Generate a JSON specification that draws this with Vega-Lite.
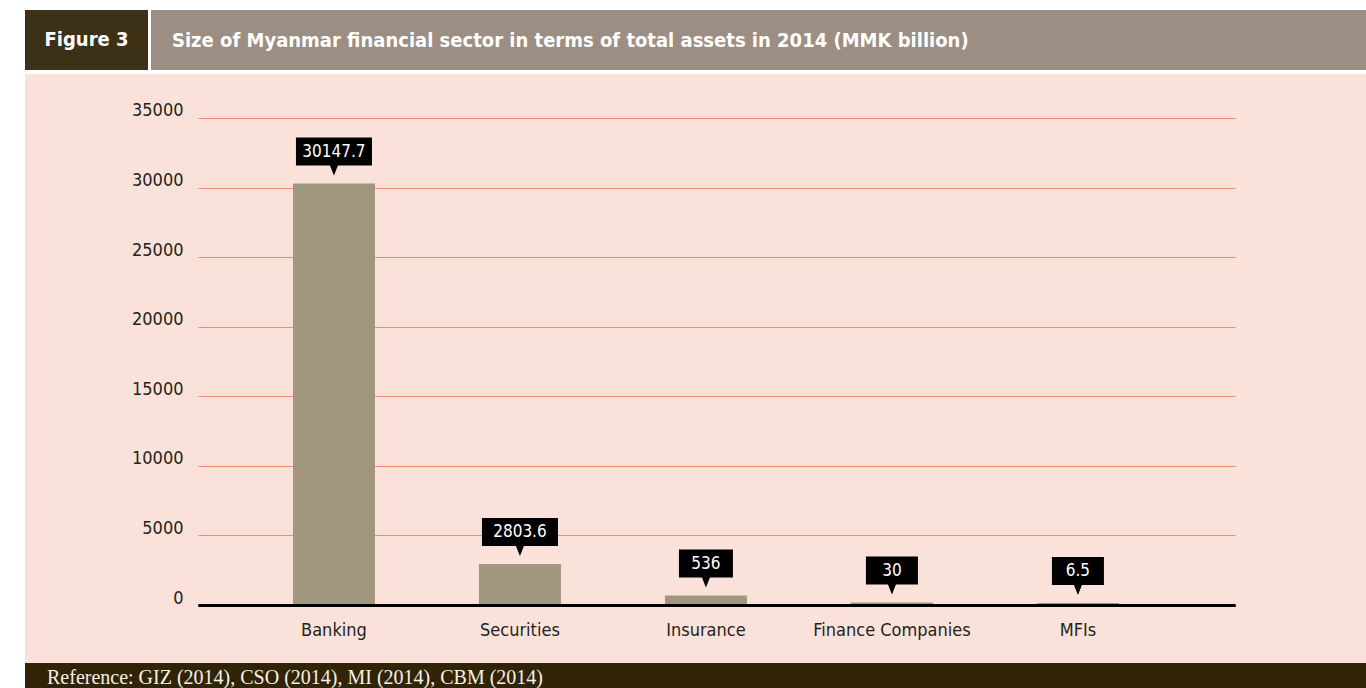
{
  "$schema": "https://vega.github.io/schema/vega-lite/v6.json",
  "background": "#ffffff",
  "padding": {"left": 25, "top": 10, "right": 0, "bottom": 0},
  "spacing": 0,
  "config": {
    "view": {"stroke": null},
    "font": "DejaVu Sans Condensed, Liberation Sans Narrow, Roboto, sans-serif"
  },
  "vconcat": [
    {
      "spacing": 3,
      "hconcat": [
        {
          "width": 123,
          "height": 60,
          "view": {"fill": "#3c3117", "stroke": null},
          "data": {"values": [{"label": "Figure 3"}]},
          "mark": {"type": "text", "color": "#ffffff", "fontSize": 20, "fontWeight": "bold", "baseline": "middle", "align": "center"},
          "encoding": {"text": {"field": "label"}}
        },
        {
          "width": 1215,
          "height": 60,
          "view": {"fill": "#9c8e82", "stroke": null},
          "data": {"values": [{"label": "Size of Myanmar financial sector in terms of total assets in 2014 (MMK billion)"}]},
          "mark": {"type": "text", "color": "#ffffff", "fontSize": 20, "fontWeight": "bold", "baseline": "middle", "align": "left", "x": 21, "y": 31},
          "encoding": {"text": {"field": "label"}}
        }
      ]
    },
    {
      "width": 1341,
      "height": 4,
      "data": {"values": []},
      "mark": {"type": "text", "text": ""},
      "encoding": {}
    },
    {
      "width": 1341,
      "height": 589,
      "view": {"fill": "#fae2db", "stroke": null},
      "data": {
        "values": [
          {"sector": "Banking", "assets": 30147.7, "label": "30147.7"},
          {"sector": "Securities", "assets": 2803.6, "label": "2803.6"},
          {"sector": "Insurance", "assets": 536, "label": "536"},
          {"sector": "Finance Companies", "assets": 30, "label": "30"},
          {"sector": "MFIs", "assets": 6.5, "label": "6.5"}
        ]
      },
      "encoding": {
        "x": {
          "field": "sector",
          "type": "nominal",
          "sort": null,
          "scale": {"rangeMin": 173, "rangeMax": 1210, "paddingInner": 0.56, "paddingOuter": 0.5677, "align": 0.45},
          "axis": {
            "title": null,
            "offset": -58,
            "domain": true,
            "domainColor": "#000000",
            "domainWidth": 3,
            "ticks": false,
            "labelPadding": 16,
            "labelAngle": 0,
            "labelBaseline": "top",
            "labelFontSize": 18,
            "labelColor": "#231f20",
            "zindex": 1
          }
        },
        "y": {
          "field": "assets",
          "type": "quantitative",
          "scale": {"domain": [-4168, 38162], "nice": false, "zero": false},
          "axis": {
            "title": null,
            "values": [0, 5000, 10000, 15000, 20000, 25000, 30000, 35000],
            "format": "d",
            "offset": -173,
            "domain": false,
            "grid": false,
            "ticks": true,
            "tickSize": -1037,
            "tickColor": {"condition": {"test": "datum.value === 0", "value": "#000000"}, "value": "#f08b6f"},
            "tickWidth": {"condition": {"test": "datum.value === 0", "value": 3}, "value": 1},
            "labelPadding": 1052,
            "labelOffset": -2,
            "labelAlign": "right",
            "labelBaseline": "alphabetic",
            "labelFontSize": 18,
            "labelColor": "#231f20",
            "zindex": 0
          }
        }
      },
      "layer": [
        {
          "mark": {"type": "bar", "color": "#a1967e", "stroke": "#a1967e", "strokeWidth": 4, "width": {"band": 0.953}},
          "encoding": {"y2": {"datum": 0}}
        },
        {
          "mark": {"type": "point", "filled": true, "size": 4, "color": "#000000", "opacity": 1, "strokeWidth": 0},
          "encoding": {
            "shape": {
              "field": "sector",
              "type": "nominal",
              "legend": null,
              "scale": {
                "domain": ["Banking", "Securities", "Insurance", "Finance Companies", "MFIs"],
                "range": [
                  "M-38,-48H38V-20H4L0,-10L-4,-20H-38Z",
                  "M-38,-48H38V-20H4L0,-10L-4,-20H-38Z",
                  "M-27,-48H27V-20H4L0,-10L-4,-20H-27Z",
                  "M-26,-48H26V-20H4L0,-10L-4,-20H-26Z",
                  "M-26,-48H26V-20H4L0,-10L-4,-20H-26Z"
                ]
              }
            }
          }
        },
        {
          "mark": {"type": "text", "color": "#ffffff", "fontSize": 17, "dy": -34, "baseline": "middle", "align": "center"},
          "encoding": {"text": {"field": "label"}}
        }
      ]
    },
    {
      "width": 1341,
      "height": 25,
      "view": {"fill": "#312406", "stroke": null},
      "data": {"values": [{"label": "Reference: GIZ (2014), CSO (2014), MI (2014), CBM (2014)"}]},
      "mark": {"type": "text", "color": "#f5f0ea", "font": "Liberation Serif, DejaVu Serif, serif", "fontSize": 20, "baseline": "middle", "align": "left", "x": 22, "y": 15},
      "encoding": {"text": {"field": "label"}}
    }
  ]
}
